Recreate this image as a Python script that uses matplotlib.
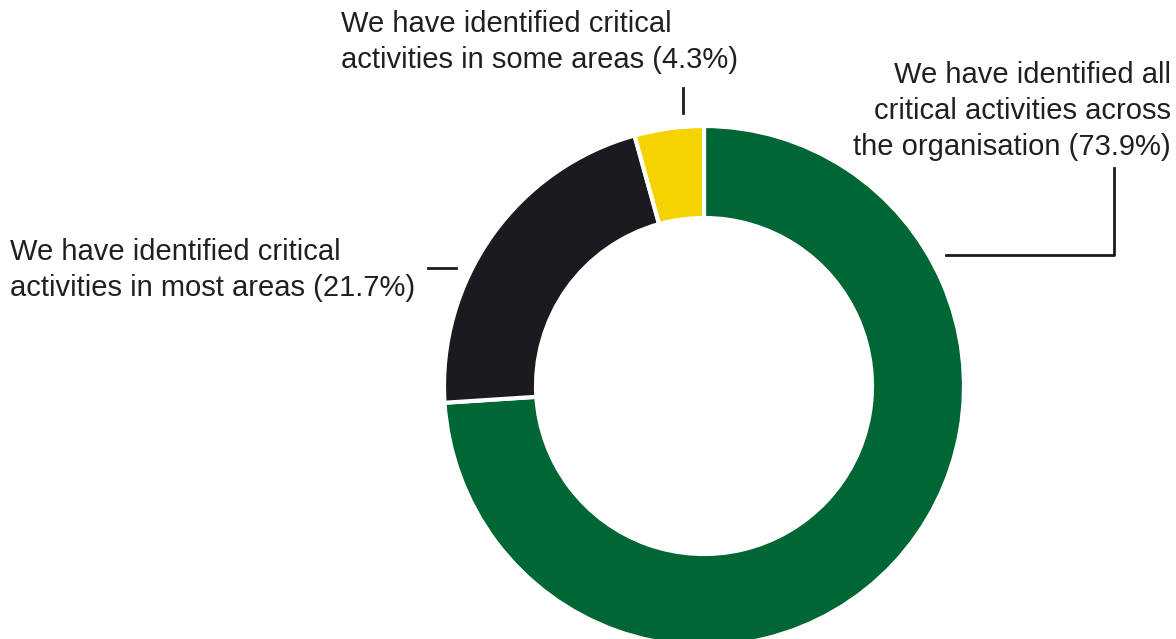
import matplotlib
matplotlib.use("Agg")
import matplotlib.pyplot as plt

labels = [
    "We have identified all\ncritical activities across\nthe organisation (73.9%)",
    "We have identified critical\nactivities in most areas (21.7%)",
    "We have identified critical\nactivities in some areas (4.3%)",
]
values = [73.9, 21.7, 4.3]
colors = ["#006633", "#1c1a1f", "#f5d300"]

plt.rcParams['font.family'] = ['Liberation Sans', 'DejaVu Sans']

W, H = 1176, 639
fig = plt.figure(figsize=(W / 100, H / 100), dpi=100)
ax = fig.add_axes([0, 0, 1, 1])

def Y(py):
    return H - py

cx, cy, R, r = 704, Y(386), 260, 168
ax.pie(values, colors=colors, startangle=90, counterclock=False,
       center=(cx, cy), radius=R,
       wedgeprops=dict(width=R - r, edgecolor='white', linewidth=3),
       frame=True)
ax.set_xlim(0, W)
ax.set_ylim(0, H)
ax.set_aspect('equal')
ax.axis('off')

fs = 21
lc = "#1c1a1f"
txt = "#231f20"
ls = 1.35
# green label
ax.text(1171, Y(111), labels[0], ha='right', va='center', fontsize=fs,
        color=txt, linespacing=ls)
ax.plot([946, 1114, 1114], [Y(255), Y(255), Y(168)], color=lc, lw=2)
# black label
ax.text(10, Y(270), labels[1], ha='left', va='center', fontsize=fs,
        color=txt, linespacing=ls)
ax.plot([428, 456], [Y(268), Y(268)], color=lc, lw=2)
# yellow label
ax.text(341, Y(42), labels[2], ha='left', va='center', fontsize=fs,
        color=txt, linespacing=ls)
ax.plot([683, 683], [Y(88), Y(113)], color=lc, lw=2)

fig.savefig("out.png", dpi=100)
